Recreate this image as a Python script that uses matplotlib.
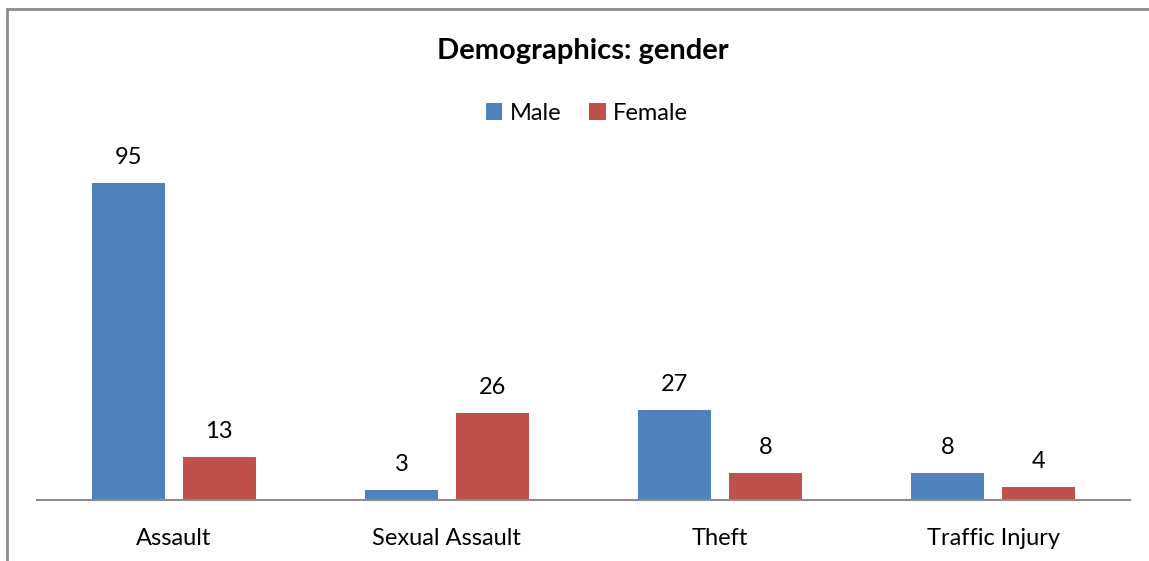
import numpy as np
import matplotlib.pyplot as plt
from matplotlib.patches import Rectangle

# --- DATA ---
categories = ['Assault', 'Sexual Assault', 'Theft', 'Traffic Injury']
male = [95, 3, 27, 8]
female = [13, 26, 8, 4]

color_male = '#4F81BD'
color_female = '#C0504D'

plt.rcParams['font.family'] = ['Lato', 'DejaVu Sans']

fig = plt.figure(figsize=(11.49, 5.61), dpi=100)
ax = fig.add_axes([37 / 1149, 61 / 561, 1093 / 1149, 334 / 561])

x = np.arange(len(categories))
w = 0.267
gap = 0.066
b1 = ax.bar(x - (w + gap) / 2, male, width=w, color=color_male, label='Male')
b2 = ax.bar(x + (w + gap) / 2, female, width=w, color=color_female, label='Female')

# valeurs au-dessus des barres
for bars in (b1, b2):
    for rect in bars:
        h = rect.get_height()
        ax.text(rect.get_x() + rect.get_width() / 2, h + 4.5, f'{int(h)}',
                ha='center', va='bottom', fontsize=17)

ax.set_xlim(-0.5, len(categories) - 0.5)
ax.set_ylim(0, 100)
ax.set_xticks(x)
ax.set_xticklabels(categories, fontsize=17)
ax.tick_params(axis='x', length=0, pad=20)
ax.set_yticks([])
for s in ('top', 'right', 'left'):
    ax.spines[s].set_visible(False)
ax.spines['bottom'].set_color('#8C8C8C')
ax.spines['bottom'].set_linewidth(1.5)

# titre et légende
fig.text(583 / 1149, 1 - 51 / 561, 'Demographics: gender', ha='center', va='center',
         fontsize=21, fontweight='bold')
fig.legend(loc='center', bbox_to_anchor=(587 / 1149, 1 - 113 / 561), ncol=2,
           frameon=False, fontsize=17, handlelength=0.7, handleheight=0.7,
           handletextpad=0.3, columnspacing=1.2)

# cadre gris autour du graphique (coupé à droite et en bas)
fig.patches.append(Rectangle((7 / 1149, -0.1), 1.5, 1.1 - 9 / 561,
                             transform=fig.transFigure, fill=False,
                             edgecolor='#8C8C8C', linewidth=2))

fig.savefig('out.png', dpi=100)
